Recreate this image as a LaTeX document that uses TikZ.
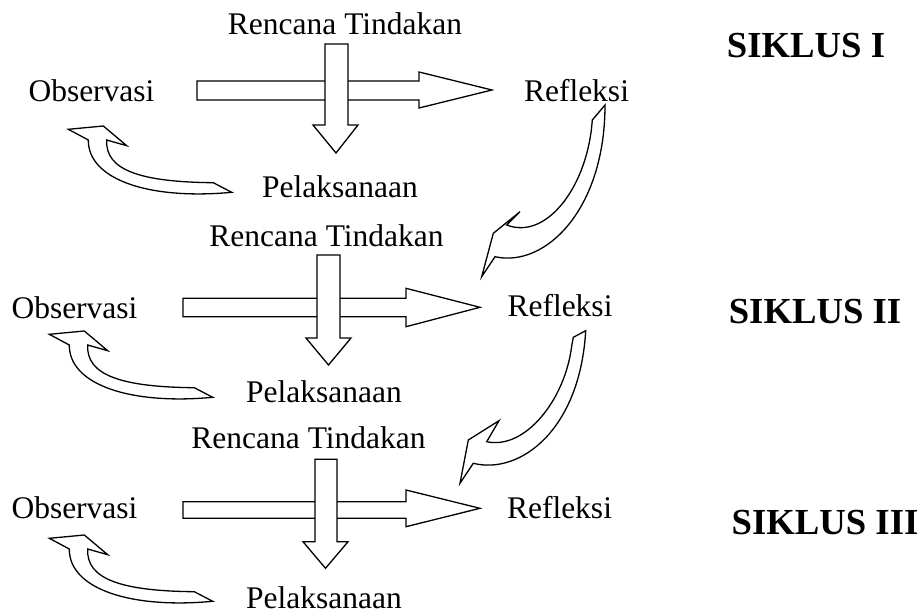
\documentclass[tikz,border=0pt]{standalone}
\usepackage{fontspec}
\setmainfont{Liberation Serif}
\begin{document}
\begin{tikzpicture}[x=1pt,y=-1pt,
  lbl/.style={anchor=base,inner sep=0pt,font=\fontsize{31.5}{36}\selectfont},
  cyc/.style={anchor=base,inner sep=0pt,font=\fontsize{36.7}{42}\selectfont\bfseries},
  blk/.style={draw=black,fill=white,line width=1.3pt,line join=miter}]
\useasboundingbox (0,0) rectangle (923,615);
% ---------- texts ----------
\node[lbl] (rt1) at (345,35) {Rencana Tindakan};
\node[lbl] (ob1) at (91.5,102) {Observasi};
\node[lbl] (rf1) at (576.5,102) {Refleksi};
\node[lbl] (pl1) at (340,197) {Pelaksanaan};
\node[cyc] (s1) at (806,58) {SIKLUS I};
\node[lbl] (rt2) at (326.5,246.7) {Rencana Tindakan};
\node[lbl] (ob2) at (74.5,318.3) {Observasi};
\node[lbl] (rf2) at (560,316.7) {Refleksi};
\node[lbl] (pl2) at (324,402.7) {Pelaksanaan};
\node[cyc] (s2) at (815,323) {SIKLUS II};
\node[lbl] (rt3) at (308.5,448.3) {Rencana Tindakan};
\node[lbl] (ob3) at (74.5,518.3) {Observasi};
\node[lbl] (rf3) at (559.5,518) {Refleksi};
\node[lbl] (pl3) at (324,608.3) {Pelaksanaan};
\node[cyc] (s3) at (825,534) {SIKLUS III};
% ---------- horizontal block arrows ----------
\draw[blk] (197,81) -- (419,81) -- (419,72) -- (492,90) -- (419,108) -- (419,100) -- (197,100) -- cycle;
\draw[blk] (183,298.3) -- (406,298.3) -- (406,288.3) -- (480,307.3) -- (406,326.7) -- (406,316.7) -- (183,316.7) -- cycle;
\draw[blk] (183,501.7) -- (406,501.7) -- (406,490) -- (480,508.3) -- (406,526.7) -- (406,518.3) -- (183,518.3) -- cycle;
% ---------- vertical block arrows ----------
\draw[blk] (325,44) -- (348,44) -- (348,125) -- (358,125) -- (336,153) -- (313,125) -- (325,125) -- cycle;
\draw[blk] (317,255) -- (340,255) -- (340,338) -- (351,338) -- (328.5,365) -- (306,338) -- (317,338) -- cycle;
\draw[blk] (315,459.3) -- (337,459.3) -- (337,541.7) -- (348,541.7) -- (325.5,568.3) -- (303,541.7) -- (315,541.7) -- cycle;
% ---------- small curved arrows (Pelaksanaan -> Observasi) ----------
\foreach \dx/\dy in {0/0,-19/205,-19/409}{
  \begin{scope}[shift={(\dx,\dy)}]
  \draw[blk] (68.3,129.3) -- (103.3,126) -- (126.7,145.7) -- (106.7,140)
     .. controls (105,170) and (140,182) .. (213.3,182.7) -- (231.7,192.3)
     .. controls (150,200) and (88,180) .. (88.3,140) -- cycle;
  \end{scope}
}
% ---------- big curved arrows (Refleksi -> next cycle) ----------
\draw[blk] (605,105) -- (592.3,120) -- (591.7,126.7)
   .. controls (585,190) and (545,240) .. (506.7,225)
   -- (520,211.7) -- (493.3,233.3) -- (481.7,276.7) -- (495,256.7)
   .. controls (545,268) and (605,210) .. (605,105) -- cycle;
\draw[blk] (585.7,330.7) -- (573.3,337.3) -- (571.7,346)
   .. controls (565,400) and (525,450) .. (486.7,441.7)
   -- (499,420.7) -- (468.3,440) -- (460,483.3) -- (473.3,463.3)
   .. controls (520,475) and (580,430) .. (585.7,330.7) -- cycle;
\end{tikzpicture}
\end{document}
